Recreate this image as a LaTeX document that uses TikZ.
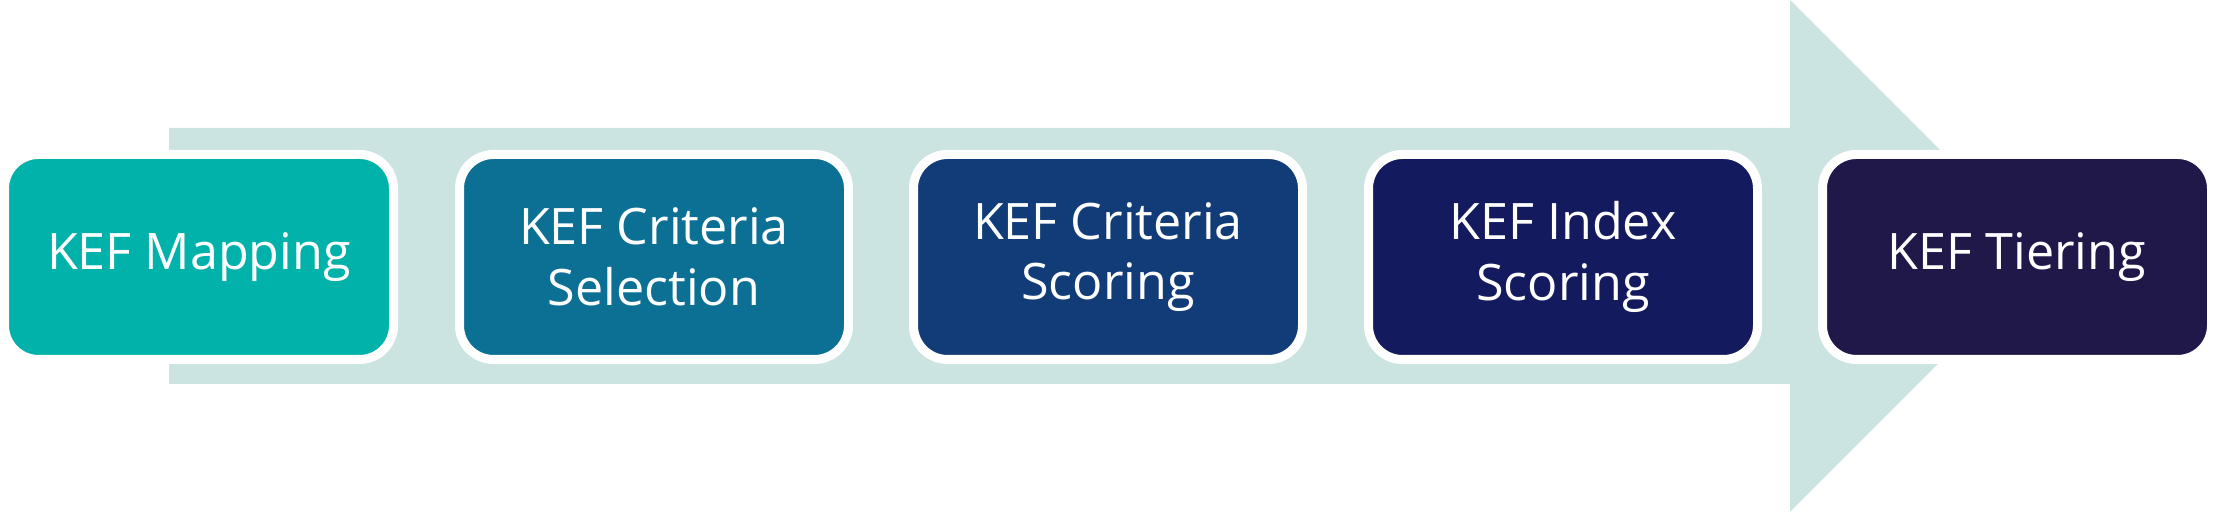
\documentclass[tikz,border=0pt]{standalone}
\usepackage{fontspec}
\setmainfont{Open Sans}
\definecolor{arrowbg}{RGB}{203,228,225}
\definecolor{stepA}{RGB}{0,178,169}
\definecolor{stepB}{RGB}{11,112,148}
\definecolor{stepC}{RGB}{17,60,120}
\definecolor{stepD}{RGB}{20,26,94}
\definecolor{stepE}{RGB}{33,24,74}
\tikzset{stagebox/.style={draw=white, line width=0.09cm, rounded corners=0.34cm,
  minimum width=3.89cm, minimum height=2.05cm, align=center, text=white,
  font=\fontsize{14.3}{17.2}\selectfont}}
\begin{document}
\begin{tikzpicture}
\useasboundingbox (0,0) rectangle (22.16,5.12);
\fill[arrowbg] (1.69,1.28) -- (17.90,1.28) -- (17.90,0) -- (20.46,2.56) -- (17.90,5.12) -- (17.90,3.84) -- (1.69,3.84) -- cycle;
\foreach \i/\x/\c/\t in {1/1.99/stepA/{KEF Mapping}, 2/6.54/stepB/{KEF Criteria\\Selection},
  3/11.08/stepC/{KEF Criteria\\Scoring}, 4/15.63/stepD/{KEF Index\\Scoring}, 5/20.17/stepE/{KEF Tiering}}
  \node[stagebox, fill=\c] (s\i) at (\x,2.55) {\t};
\end{tikzpicture}
\end{document}
